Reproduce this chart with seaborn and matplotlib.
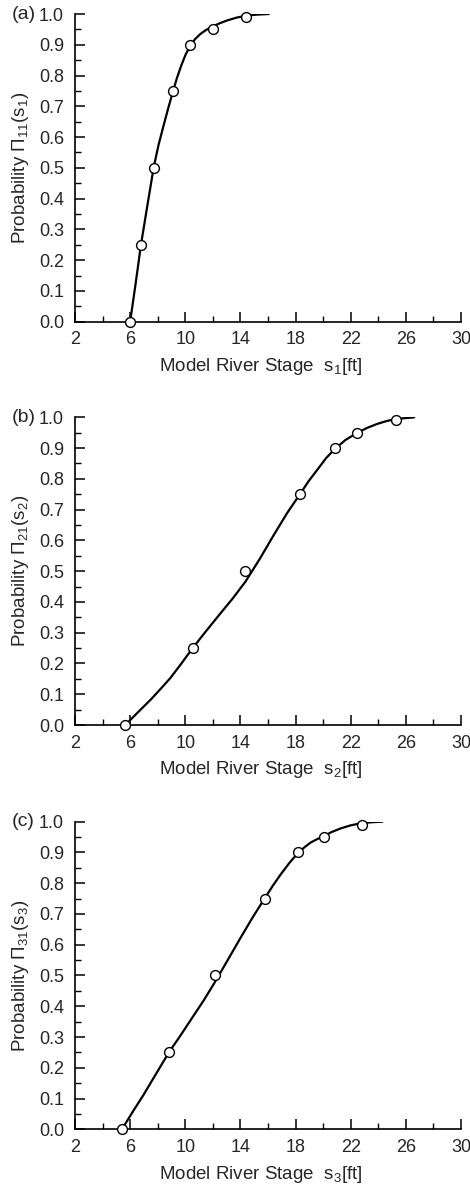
import numpy as np
import pandas as pd
import seaborn as sns
import matplotlib.pyplot as plt
from matplotlib.ticker import MultipleLocator

# datos
prob_levels = [0.0, 0.25, 0.5, 0.75, 0.9, 0.95, 0.99]

stage_a = [6.0, 6.78, 7.70, 9.10, 10.36, 11.98, 14.37]
stage_b = [5.64, 10.53, 14.33, 18.31, 20.84, 22.44, 25.25]
stage_c = [5.40, 8.81, 12.18, 15.75, 18.17, 20.06, 22.78]

# curva ajustada (leida punto a punto)
curve_a_x = [6.0, 6.4, 6.78, 7.25, 7.70, 8.05, 8.42, 8.78, 9.10, 9.40, 9.71, 10.02, 10.36,
             10.70, 11.09, 11.50, 12.01, 12.50, 13.03, 13.70, 14.44, 15.20, 16.06]
curve_a_y = [0.0, 0.125, 0.249, 0.378, 0.5, 0.573, 0.637, 0.697, 0.748, 0.793, 0.833, 0.868, 0.897,
             0.918, 0.935, 0.948, 0.960, 0.970, 0.979, 0.988, 0.995, 0.998, 1.0]

curve_b_x = [5.64, 6.2, 6.8, 7.5, 8.2, 8.9, 9.7, 10.53, 11.5, 12.55, 13.45, 14.36, 15.4, 16.42, 17.4,
             18.31, 18.95, 19.58, 20.2, 20.84, 21.6, 22.44, 23.2, 23.94, 24.6, 25.32, 26.6]
curve_b_y = [0.0, 0.025, 0.052, 0.083, 0.117, 0.152, 0.199, 0.25, 0.305, 0.363, 0.412, 0.466, 0.540, 0.618, 0.69,
             0.75, 0.793, 0.83, 0.867, 0.897, 0.926, 0.949, 0.966, 0.979, 0.988, 0.995, 1.0]

curve_c_x = [5.40, 6.2, 6.97, 7.9, 8.81, 9.65, 10.49, 11.35, 12.18, 13.1, 14.0, 14.9, 15.75,
             16.35, 16.91, 17.55, 18.17, 18.65, 19.09, 19.6, 20.06, 20.6, 21.27, 22.0, 22.78, 23.5, 24.3]
curve_c_y = [0.0, 0.058, 0.112, 0.182, 0.25, 0.305, 0.362, 0.42, 0.481, 0.552, 0.622, 0.69, 0.75,
             0.792, 0.828, 0.866, 0.898, 0.917, 0.932, 0.944, 0.953, 0.966, 0.978, 0.988, 0.995, 0.998, 1.0]

panel_tags = ['(a)', '(b)', '(c)']
y_labels = [r'Probability $\Pi_{11}$(s$_1$)', r'Probability $\Pi_{21}$(s$_2$)',
            r'Probability $\Pi_{31}$(s$_3$)']
x_labels = [r'Model River Stage  s$_1$[ft]', r'Model River Stage  s$_2$[ft]',
            r'Model River Stage  s$_3$[ft]']
x_ticks = [2, 6, 10, 14, 18, 22, 26, 30]

sns.set_style('ticks')
plt.rcParams['font.family'] = ['Liberation Sans', 'DejaVu Sans']
plt.rcParams['mathtext.fontset'] = 'custom'
plt.rcParams['mathtext.rm'] = 'Liberation Sans'
plt.rcParams['mathtext.it'] = 'Liberation Sans'

fig = plt.figure(figsize=(4.7, 11.87), dpi=100)
bottoms = [0.729, 0.3892, 0.0486]
height = 0.2592

stages = [stage_a, stage_b, stage_c]
curves = [(curve_a_x, curve_a_y), (curve_b_x, curve_b_y), (curve_c_x, curve_c_y)]

for i in range(3):
    ax = fig.add_axes([0.1596, bottoms[i], 0.8214, height])
    cx, cy = curves[i]
    sns.lineplot(x=cx, y=cy, ax=ax, color='black', linewidth=1.6, sort=False,
                 estimator=None)
    sns.scatterplot(x=stages[i], y=prob_levels, ax=ax, marker='o', s=50,
                    facecolor='white', edgecolor='black', linewidth=1.0,
                    zorder=5, clip_on=False)
    ax.set_xlim(2, 30)
    ax.set_ylim(0, 1)
    ax.set_xticks(x_ticks)
    ax.xaxis.set_minor_locator(MultipleLocator(2))
    ax.set_yticks(np.arange(0, 1.01, 0.1))
    ax.set_yticklabels(['%.1f' % v for v in np.arange(0, 1.01, 0.1)])
    ax.yaxis.set_minor_locator(MultipleLocator(0.05))
    ax.tick_params(axis='both', which='major', direction='in', length=7, width=1.1,
                   labelsize=13, color='black')
    ax.tick_params(axis='both', which='minor', direction='in', length=4, width=1.0,
                   color='black')
    ax.tick_params(axis='x', which='major', pad=7)
    ax.tick_params(axis='y', which='major', pad=8)
    sns.despine(ax=ax)
    for sp in ['left', 'bottom']:
        ax.spines[sp].set_linewidth(1.2)
        ax.spines[sp].set_color('black')
    ax.set_ylabel(y_labels[i], fontsize=13.5)
    ax.set_xlabel(x_labels[i], fontsize=13.5)
    ax.yaxis.set_label_coords(-0.115, 0.5)
    ax.xaxis.set_label_coords(0.482, -0.112)
    ax.text(-0.165, 1.0, panel_tags[i], transform=ax.transAxes, ha='left',
            va='center', fontsize=14)

fig.savefig('out.png', dpi=100)
